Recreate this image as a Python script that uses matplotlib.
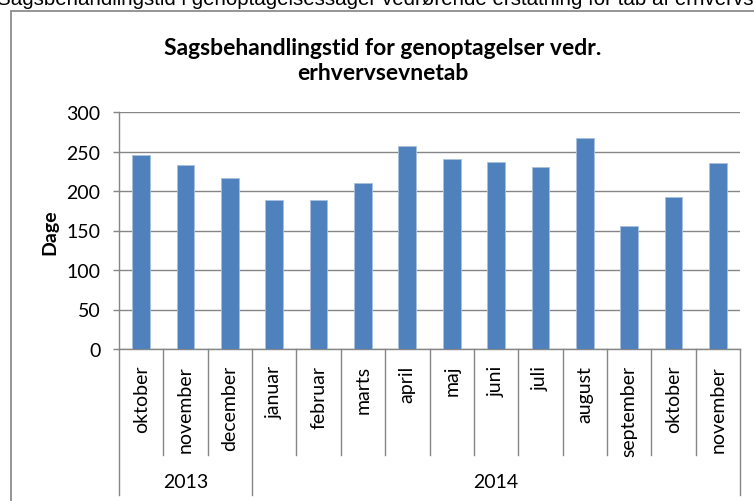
import matplotlib
matplotlib.use("Agg")
import matplotlib.pyplot as plt
from matplotlib.patches import Rectangle
from matplotlib.lines import Line2D

months = ["oktober", "november", "december", "januar", "februar", "marts", "april",
          "maj", "juni", "juli", "august", "september", "oktober", "november"]
years = ["2013", "2014"]
year_counts = [3, 11]
values = [246, 233, 217, 188, 188, 210, 257, 240, 237, 231, 267, 156, 192, 235]
yticks = [0, 50, 100, 150, 200, 250, 300]

title = "Sagsbehandlingstid for genoptagelser vedr.\nerhvervsevnetab"
header = "Sagsbehandlingstid i genoptagelsessager vedrørende erstatning for tab af erhvervsevne"
ylabel = "Dage"

W, H = 754, 502
fig = plt.figure(figsize=(W / 100, H / 100), dpi=100)
FONT = ["Lato", "DejaVu Sans"]
GRAY = "#868686"
FS = 14.0

# outer chart frame
fig.patches.append(Rectangle((10.5 / W, -0.05), 1.0, (H - 11.5) / H + 0.05,
                             transform=fig.transFigure, fill=False,
                             edgecolor="#8c8c8c", linewidth=1.3))
# header text (cut off at the top edge, as in the reference)
fig.text(-3 / W, (H - 5) / H, header, fontsize=14.8,
         family=["Liberation Sans", "DejaVu Sans"],
         va="baseline", ha="left", color="black")

left, right, top, bottom = 119, 740, 113, 350
ax = fig.add_axes([left / W, (H - bottom) / H, (right - left) / W, (bottom - top) / H])
x = list(range(len(values)))
ax.bar(x, values, width=0.4, color="#4F81BD", edgecolor="#a9c0dd", linewidth=0.6, zorder=3)
ax.set_xlim(-0.5, len(values) - 0.5)
ax.set_ylim(0, 300)
ax.set_yticks(yticks)
ax.set_yticklabels([str(v) for v in yticks], family=FONT, fontsize=FS)
ax.yaxis.grid(True, color=GRAY, linewidth=1.0, zorder=0)
ax.set_axisbelow(True)
ax.tick_params(axis="y", length=4.5, width=1.0, color=GRAY, pad=9)
ax.set_xticks([])
for s in ["top", "right"]:
    ax.spines[s].set_visible(False)
for s in ["left", "bottom"]:
    ax.spines[s].set_color(GRAY)
    ax.spines[s].set_linewidth(1.0)

fig.text(50 / W, (H - 232) / H, ylabel, rotation=90, ha="center", va="center",
         family=FONT, fontsize=FS, fontweight="bold")

# category axis (two levels)
trans = ax.get_xaxis_transform()
ah = bottom - top
month_depth = -(456 - bottom) / ah
year_depth = -(496 - bottom) / ah
year_bounds = [-0.5]
for c in year_counts:
    year_bounds.append(year_bounds[-1] + c)
for i in range(len(values) + 1):
    xb = i - 0.5
    depth = year_depth if xb in year_bounds else month_depth
    ax.add_line(Line2D([xb, xb], [0, depth], transform=trans, color=GRAY,
                       linewidth=1.0, clip_on=False))
for i, m in enumerate(months):
    ax.text(i, -(366 - bottom) / ah, m, transform=trans, rotation=90, ha="center",
            va="top", family=FONT, fontsize=FS)
for j, yname in enumerate(years):
    xc = (year_bounds[j] + year_bounds[j + 1]) / 2
    ax.text(xc, -(483 - bottom) / ah, yname, transform=trans, ha="center",
            va="center", family=FONT, fontsize=FS)

fig.text(383 / W, (H - 61) / H, title, ha="center", va="center", family=FONT,
         fontsize=16.5, fontweight="bold", linespacing=1.25)

fig.savefig("out.png", dpi=100)
